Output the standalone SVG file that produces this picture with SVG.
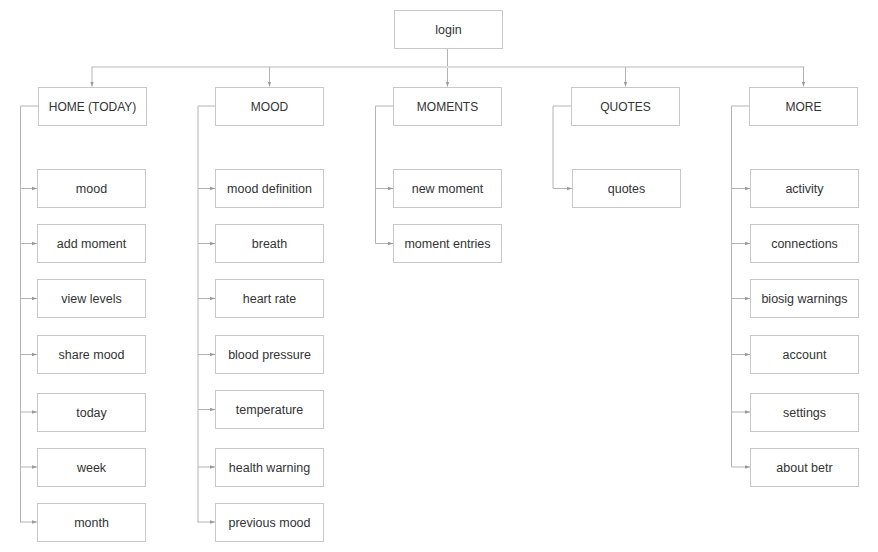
<svg xmlns="http://www.w3.org/2000/svg" width="878" height="552" viewBox="0 0 878 552">
<style>
.box{fill:#fff;stroke:#c8c8c8;stroke-width:1}
.lbl{font-family:"Liberation Sans",Arial,sans-serif;font-size:12.5px;fill:#333;text-anchor:middle;dominant-baseline:central}
.hd{font-size:12px}
.ln{fill:none;stroke:#b4b4b4;stroke-width:1}
.bus{fill:none;stroke:#dcdcdc;stroke-width:2}
</style>
<defs>
<marker id="ah" viewBox="0 0 6 6" refX="6" refY="3" markerWidth="5" markerHeight="5" markerUnits="userSpaceOnUse" orient="auto">
<path d="M0,0.8 L6,3 L0,5.2 z" fill="#999"/>
</marker>
</defs>
<g id="connectors">
<line class="ln" x1="447.5" y1="48" x2="447.5" y2="86.5" marker-end="url(#ah)"/>
<line class="bus" x1="91.5" y1="67" x2="804.5" y2="67"/>
<line class="ln" x1="92" y1="67" x2="92" y2="86.5" marker-end="url(#ah)"/>
<line class="ln" x1="269.5" y1="67" x2="269.5" y2="86.5" marker-end="url(#ah)"/>
<line class="ln" x1="625.5" y1="67" x2="625.5" y2="86.5" marker-end="url(#ah)"/>
<line class="ln" x1="803.5" y1="67" x2="803.5" y2="86.5" marker-end="url(#ah)"/>
<!-- HOME -->
<path class="ln" d="M38,106 H20.5 V522.5"/>
<line class="ln" x1="20.5" y1="188.5" x2="37" y2="188.5" marker-end="url(#ah)"/>
<line class="ln" x1="20.5" y1="243.5" x2="37" y2="243.5" marker-end="url(#ah)"/>
<line class="ln" x1="20.5" y1="298.5" x2="37" y2="298.5" marker-end="url(#ah)"/>
<line class="ln" x1="20.5" y1="354.5" x2="37" y2="354.5" marker-end="url(#ah)"/>
<line class="ln" x1="20.5" y1="412" x2="37" y2="412" marker-end="url(#ah)"/>
<line class="ln" x1="20.5" y1="467" x2="37" y2="467" marker-end="url(#ah)"/>
<path class="ln" d="M20.5,522 H37" marker-end="url(#ah)"/>
<!-- MOOD -->
<path class="ln" d="M215,106 H198 V522.5"/>
<line class="ln" x1="198" y1="188.5" x2="215" y2="188.5" marker-end="url(#ah)"/>
<line class="ln" x1="198" y1="243.5" x2="215" y2="243.5" marker-end="url(#ah)"/>
<line class="ln" x1="198" y1="298.5" x2="215" y2="298.5" marker-end="url(#ah)"/>
<line class="ln" x1="198" y1="354.5" x2="215" y2="354.5" marker-end="url(#ah)"/>
<line class="ln" x1="198" y1="409.5" x2="215" y2="409.5" marker-end="url(#ah)"/>
<line class="ln" x1="198" y1="467" x2="215" y2="467" marker-end="url(#ah)"/>
<path class="ln" d="M198,522 H215" marker-end="url(#ah)"/>
<!-- MOMENTS -->
<path class="ln" d="M393,106 H375.5 V243.5 H393" marker-end="url(#ah)"/>
<line class="ln" x1="375.5" y1="188.5" x2="393" y2="188.5" marker-end="url(#ah)"/>
<!-- QUOTES -->
<path class="ln" d="M571,106 H553 V188.5 H572" marker-end="url(#ah)"/>
<!-- MORE -->
<path class="ln" d="M749,106 H731.5 V467 H750" marker-end="url(#ah)"/>
<line class="ln" x1="731.5" y1="188.5" x2="750" y2="188.5" marker-end="url(#ah)"/>
<line class="ln" x1="731.5" y1="243.5" x2="750" y2="243.5" marker-end="url(#ah)"/>
<line class="ln" x1="731.5" y1="298.5" x2="750" y2="298.5" marker-end="url(#ah)"/>
<line class="ln" x1="731.5" y1="354.5" x2="750" y2="354.5" marker-end="url(#ah)"/>
<line class="ln" x1="731.5" y1="412" x2="750" y2="412" marker-end="url(#ah)"/>
</g>
<g id="login"><rect class="box" x="394.5" y="10.5" width="108" height="38"/><text class="lbl" x="448.5" y="29.5">login</text></g>
<g id="home"><rect class="box" x="38.5" y="87.5" width="108" height="38"/><text class="lbl hd" x="92.5" y="106.5">HOME (TODAY)</text></g>
<g id="mood"><rect class="box" x="215.5" y="87.5" width="108" height="38"/><text class="lbl hd" x="269.5" y="106.5">MOOD</text></g>
<g id="moments"><rect class="box" x="393.5" y="87.5" width="108" height="38"/><text class="lbl hd" x="447.5" y="106.5">MOMENTS</text></g>
<g id="quotes"><rect class="box" x="571.5" y="87.5" width="108" height="38"/><text class="lbl hd" x="625.5" y="106.5">QUOTES</text></g>
<g id="more"><rect class="box" x="749.5" y="87.5" width="108" height="38"/><text class="lbl hd" x="803.5" y="106.5">MORE</text></g>

<g id="home-mood"><rect class="box" x="37.5" y="169.5" width="108" height="38"/><text class="lbl" x="91.5" y="188.5">mood</text></g>
<g id="home-add-moment"><rect class="box" x="37.5" y="224.5" width="108" height="38"/><text class="lbl" x="91.5" y="243.5">add moment</text></g>
<g id="home-view-levels"><rect class="box" x="37.5" y="279.5" width="108" height="38"/><text class="lbl" x="91.5" y="298.5">view levels</text></g>
<g id="home-share-mood"><rect class="box" x="37.5" y="335.5" width="108" height="38"/><text class="lbl" x="91.5" y="354.5">share mood</text></g>
<g id="home-today"><rect class="box" x="37.5" y="393.5" width="108" height="38"/><text class="lbl" x="91.5" y="412.5">today</text></g>
<g id="home-week"><rect class="box" x="37.5" y="448.5" width="108" height="38"/><text class="lbl" x="91.5" y="467.5">week</text></g>
<g id="home-month"><rect class="box" x="37.5" y="503.5" width="108" height="38"/><text class="lbl" x="91.5" y="522.5">month</text></g>

<g id="mood-definition"><rect class="box" x="215.5" y="169.5" width="108" height="38"/><text class="lbl" x="269.5" y="188.5">mood definition</text></g>
<g id="mood-breath"><rect class="box" x="215.5" y="224.5" width="108" height="38"/><text class="lbl" x="269.5" y="243.5">breath</text></g>
<g id="mood-heart-rate"><rect class="box" x="215.5" y="279.5" width="108" height="38"/><text class="lbl" x="269.5" y="298.5">heart rate</text></g>
<g id="mood-blood-pressure"><rect class="box" x="215.5" y="335.5" width="108" height="38"/><text class="lbl" x="269.5" y="354.5">blood pressure</text></g>
<g id="mood-temperature"><rect class="box" x="215.5" y="390.5" width="108" height="38"/><text class="lbl" x="269.5" y="409.5">temperature</text></g>
<g id="mood-health-warning"><rect class="box" x="215.5" y="448.5" width="108" height="38"/><text class="lbl" x="269.5" y="467.5">health warning</text></g>
<g id="mood-previous-mood"><rect class="box" x="215.5" y="503.5" width="108" height="38"/><text class="lbl" x="269.5" y="522.5">previous mood</text></g>

<g id="moments-new"><rect class="box" x="393.5" y="169.5" width="108" height="38"/><text class="lbl" x="447.5" y="188.5">new moment</text></g>
<g id="moments-entries"><rect class="box" x="393.5" y="224.5" width="108" height="38"/><text class="lbl" x="447.5" y="243.5">moment entries</text></g>

<g id="quotes-quotes"><rect class="box" x="572.5" y="169.5" width="108" height="38"/><text class="lbl" x="626.5" y="188.5">quotes</text></g>

<g id="more-activity"><rect class="box" x="750.5" y="169.5" width="108" height="38"/><text class="lbl" x="804.5" y="188.5">activity</text></g>
<g id="more-connections"><rect class="box" x="750.5" y="224.5" width="108" height="38"/><text class="lbl" x="804.5" y="243.5">connections</text></g>
<g id="more-biosig"><rect class="box" x="750.5" y="279.5" width="108" height="38"/><text class="lbl" x="804.5" y="298.5">biosig warnings</text></g>
<g id="more-account"><rect class="box" x="750.5" y="335.5" width="108" height="38"/><text class="lbl" x="804.5" y="354.5">account</text></g>
<g id="more-settings"><rect class="box" x="750.5" y="393.5" width="108" height="38"/><text class="lbl" x="804.5" y="412.5">settings</text></g>
<g id="more-about"><rect class="box" x="750.5" y="448.5" width="108" height="38"/><text class="lbl" x="804.5" y="467.5">about betr</text></g>
</svg>
